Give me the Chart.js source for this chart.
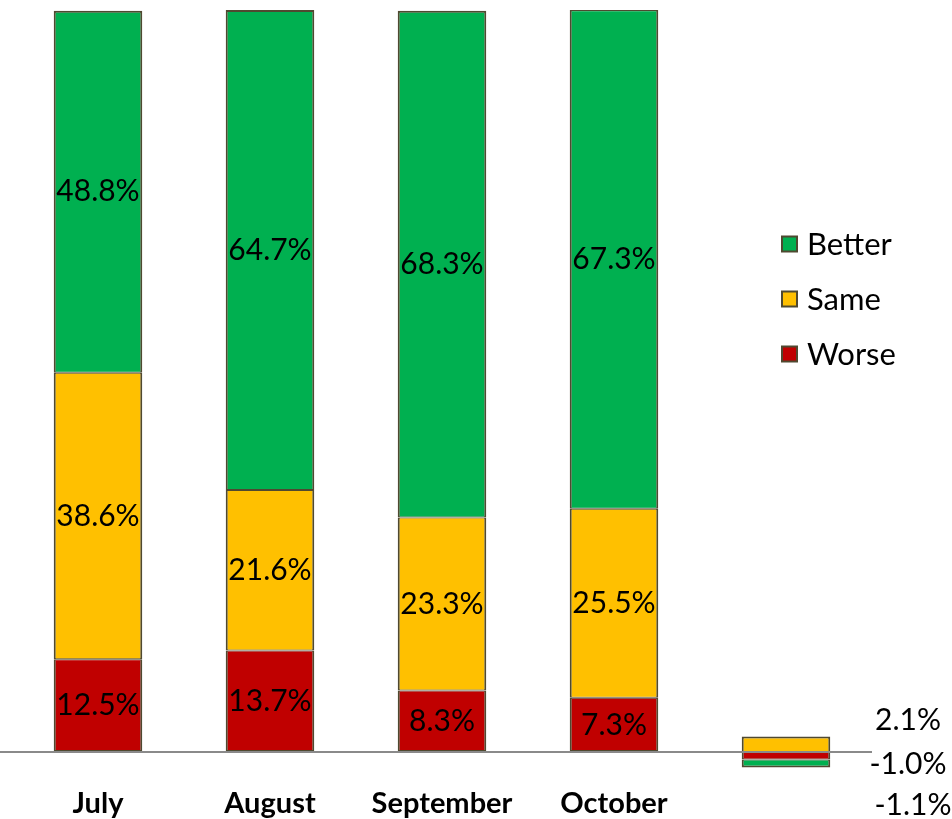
<!DOCTYPE html>
<html>
<head>
<meta charset="utf-8">
<script src="https://cdn.jsdelivr.net/npm/chart.js@4"></script>
<style>
html,body{margin:0;padding:0;background:#fff;}
#wrap{width:952px;height:819px;}
</style>
</head>
<body>
<div id="wrap"><canvas id="chart" width="952" height="819"></canvas></div>
<script>

/* DATA */

const categories = ["July","August","September","October",""];
const worse  = [12.5,13.7,8.3,7.3,-1.0];
const same   = [38.6,21.6,23.3,25.5,2.1];
const better = [48.8,64.7,68.3,67.3,-1.1];

const seriesNames = ["Worse","Same","Better"];
const seriesColors = ["#c00000","#ffc000","#00b050"];
const edge = "#4f4930";

const labelFont = "30px Lato";

/* outer edges 2px, shared edges between segments 1px each */
function edgeWidth(ctx){
const di = ctx.datasetIndex, i = ctx.dataIndex;
let top = 1, bottom = 1;
if(i < categories.length-1){
if(di==2) top = 2;
if(di==0) bottom = 2;
}else{
if(di==1) top = 2;
if(di==2) bottom = 2;
}
return {left:2,right:2,top:top,bottom:bottom};
}

/* labels inside the bars, and beside the change bar */

const valueLabels = {
id:"valueLabels",
afterDatasetsDraw(chart){
const c = chart.ctx;
const zero = chart.scales.y.getPixelForValue(0);
const sideOffsets = [12,-32,53];   // worse, same, better, beside last bar
c.save();
c.font = labelFont;
c.fillStyle = "#000";
c.textBaseline = "middle";
c.textAlign = "center";
chart.data.datasets.forEach((ds,di)=>{
chart.getDatasetMeta(di).data.forEach((bar,i)=>{
const txt = ds.data[i].toFixed(1)+"%";
if(i < categories.length-1){
c.fillText(txt, bar.x, (bar.y+bar.base)/2);
}else{
c.fillText(txt, bar.x+122+(di==2?5:0), zero+sideOffsets[di]);
}
});
});

/* zero line */
c.strokeStyle = "#8a8a8a";
c.lineWidth = 2;
c.beginPath();
c.moveTo(0, zero);
c.lineTo(chart.chartArea.right, zero);
c.stroke();
c.restore();
}
};

/* legend on the right */

const sideLegend = {
id:"sideLegend",
afterDraw(chart){
const c = chart.ctx;
c.save();
c.font = "31px Lato";
c.textBaseline = "middle";
c.textAlign = "left";
const x = 782, y0 = 244, gap = 55;
[2,1,0].forEach((di,k)=>{
const y = y0 + k*gap;
c.fillStyle = seriesColors[di];
c.fillRect(x, y-7.5, 15, 15);
c.strokeStyle = edge;
c.lineWidth = 2;
c.strokeRect(x, y-7.5, 15, 15);
c.fillStyle = "#000";
c.fillText(seriesNames[di], x+25, y+1);
});
c.restore();
}
};

const ctx = document.getElementById("chart");

new Chart(ctx,{
type:"bar",
data:{
labels:categories,
datasets:[
{label:"Worse", data:worse, backgroundColor:seriesColors[0]},
{label:"Same", data:same, backgroundColor:seriesColors[1]},
{label:"Better", data:better, backgroundColor:seriesColors[2]}
].map(d=>Object.assign(d,{
borderColor:edge,
borderWidth:edgeWidth,
borderSkipped:false,
barPercentage:0.515,
categoryPercentage:1
}))
},
options:{
responsive:false,
animation:false,
devicePixelRatio:1,
layout:{padding:{left:12,right:80,top:10,bottom:0}},
plugins:{
legend:{display:false},
tooltip:{enabled:false}
},
scales:{
x:{
stacked:true,
grid:{display:false,drawTicks:false},
border:{display:false},
ticks:{
color:"#000",
padding:12,
font:{family:"Lato",size:29,weight:"bold"}
},
afterFit(scale){ scale.height = 44.7; }
},
y:{
stacked:true,
display:false,
min:-3,
max:100
}
}
},
plugins:[valueLabels,sideLegend]
});

</script>
</body>
</html>
